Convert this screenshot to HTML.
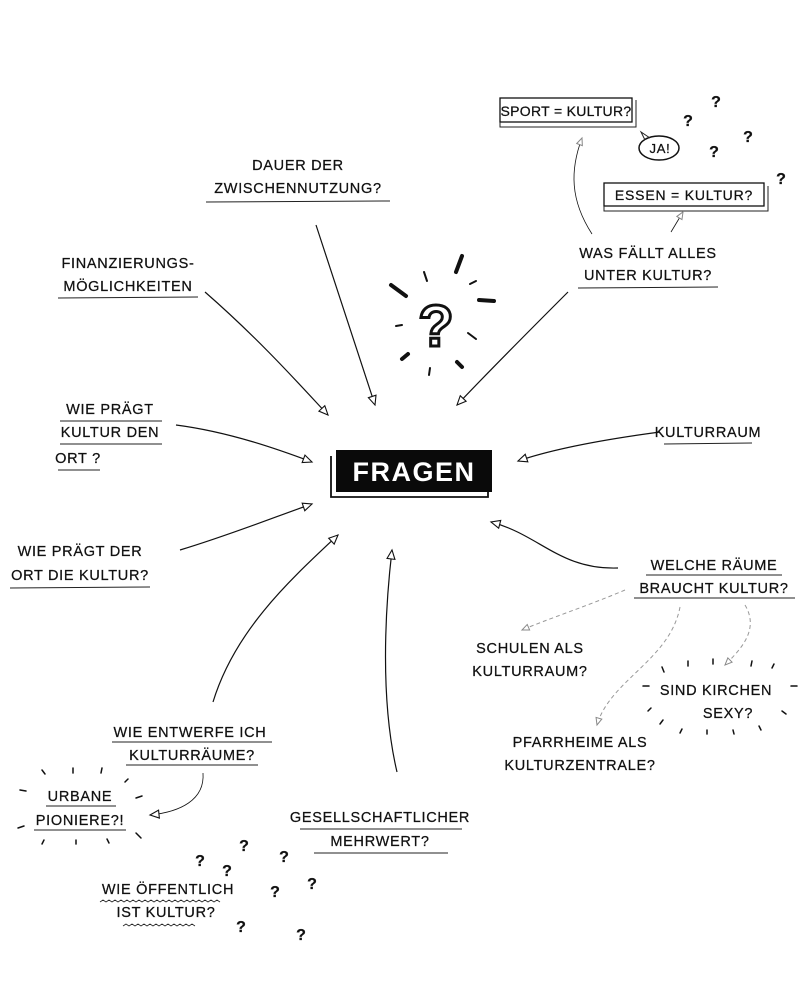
<!DOCTYPE html>
<html><head><meta charset="utf-8"><style>
html,body{margin:0;padding:0;background:#fff;}
svg{display:block}
text{font-family:"Liberation Sans",sans-serif;font-size:14.5px;letter-spacing:0.7px;fill:#111;text-anchor:middle;stroke:#111;stroke-width:0.25}
.q{font-size:16px;font-weight:bold;letter-spacing:0}
.l{stroke:#111;stroke-width:1.2;fill:none}
.u{stroke:#222;stroke-width:1;fill:none}
.d{stroke:#999;stroke-width:1;fill:none;stroke-dasharray:4 3}
.r{stroke:#111;stroke-width:2;stroke-linecap:round}
.b{stroke:#111;stroke-width:4;stroke-linecap:round}
</style></head><body>
<svg width="806" height="983" viewBox="0 0 806 983" xmlns="http://www.w3.org/2000/svg">
<defs>
<marker id="a" markerWidth="12" markerHeight="10" refX="10" refY="5" orient="auto" markerUnits="userSpaceOnUse"><path d="M1,1 L10,5 L1,9 Z" fill="#fff" stroke="#111" stroke-width="1.1"/></marker>
<marker id="ag" markerWidth="10" markerHeight="8" refX="8" refY="4" orient="auto" markerUnits="userSpaceOnUse"><path d="M1,1 L8,4 L1,7 Z" fill="#fff" stroke="#888" stroke-width="1"/></marker>
</defs>

<!-- top right -->
<rect x="500" y="98" width="132" height="24" fill="#fff" stroke="#111" stroke-width="1.3"/>
<path d="M500,122 L500,127 L636,127 L636,100" class="u"/>
<text x="566" y="116" style="font-size:14px;letter-spacing:0.3px">SPORT = KULTUR?</text>
<ellipse cx="659" cy="148" rx="20" ry="12" fill="#fff" stroke="#111" stroke-width="1.5"/>
<path d="M645,140 L641,132 L650,138" class="u"/>
<text x="660" y="153" style="font-size:13px">JA!</text>
<rect x="604" y="183" width="160" height="23" fill="#fff" stroke="#111" stroke-width="1.3"/>
<path d="M604,206 L604,211 L768,211 L768,186" class="u"/>
<text x="684" y="200" style="font-size:14px;letter-spacing:0.8px">ESSEN = KULTUR?</text>
<text class="q" x="716" y="107">?</text><text class="q" x="688" y="126">?</text>
<text class="q" x="748" y="142">?</text><text class="q" x="714" y="157">?</text>
<text class="q" x="781" y="184">?</text>
<text x="648" y="258">WAS FÄLLT ALLES</text>
<text x="648" y="280">UNTER KULTUR?</text>
<path d="M578,288 L718,287" class="u"/>
<path d="M592,234 C570,200 570,170 582,138" class="l" style="stroke-width:0.8" marker-end="url(#ag)"/>
<path d="M671,232 L683,212" class="l" style="stroke-width:0.8" marker-end="url(#ag)"/>

<!-- top left -->
<text x="298" y="170">DAUER DER</text>
<text x="298" y="193">ZWISCHENNUTZUNG?</text>
<path d="M206,202 L390,201" class="u"/>
<text x="128" y="268">FINANZIERUNGS-</text>
<text x="128" y="291">MÖGLICHKEITEN</text>
<path d="M58,298 L198,297" class="u"/>

<!-- bulb -->
<g>
<line class="b" x1="462" y1="256" x2="456" y2="272"/>
<line class="b" x1="391" y1="285" x2="406" y2="296"/>
<line class="b" x1="479" y1="300" x2="494" y2="301"/>
<line class="r" x1="424" y1="272" x2="427" y2="281"/>
<line class="r" x1="470" y1="284" x2="476" y2="281"/>
<line class="r" x1="396" y1="326" x2="402" y2="325"/>
<line class="r" x1="468" y1="333" x2="476" y2="339"/>
<line class="b" x1="402" y1="359" x2="408" y2="354"/>
<line class="r" x1="430" y1="368" x2="429" y2="375"/>
<line class="b" x1="457" y1="362" x2="462" y2="367"/>
<text x="436" y="346" style="font-size:58px;font-weight:bold;fill:#fff;stroke:#111;stroke-width:3;letter-spacing:0">?</text>
</g>

<!-- FRAGEN -->
<path d="M331,456 L331,497 L488,497 L488,490" fill="none" stroke="#111" stroke-width="1.8"/>
<rect x="336" y="450" width="156" height="42" fill="#0a0a0a"/>
<text x="414" y="481" style="font-size:27px;font-weight:bold;fill:#fff;stroke:none;letter-spacing:1.5px">FRAGEN</text>

<!-- left -->
<text x="110" y="414">WIE PRÄGT</text>
<path d="M60,421 L162,421" class="u"/>
<text x="110" y="437">KULTUR DEN</text>
<path d="M60,444 L162,444" class="u"/>
<text x="78" y="463">ORT ?</text>
<path d="M58,470 L100,470" class="u"/>
<text x="80" y="556">WIE PRÄGT DER</text>
<text x="80" y="580">ORT DIE KULTUR?</text>
<path d="M10,588 L150,587" class="u"/>

<!-- right -->
<text x="708" y="437">KULTURRAUM</text>
<path d="M664,444 L752,443" class="u"/>
<text x="714" y="570">WELCHE RÄUME</text>
<path d="M646,575 L782,575" class="u"/>
<text x="714" y="593">BRAUCHT KULTUR?</text>
<path d="M634,598 L795,598" class="u"/>
<text x="530" y="653">SCHULEN ALS</text>
<text x="530" y="676">KULTURRAUM?</text>
<text x="716" y="695">SIND KIRCHEN</text>
<text x="728" y="718">SEXY?</text>
<g class="r" style="stroke-width:1.5">
<line x1="662" y1="667" x2="664" y2="672"/><line x1="688" y1="661" x2="688" y2="666"/>
<line x1="713" y1="659" x2="713" y2="664"/><line x1="752" y1="661" x2="751" y2="666"/>
<line x1="774" y1="664" x2="772" y2="668"/><line x1="643" y1="686" x2="649" y2="686"/>
<line x1="791" y1="686" x2="797" y2="686"/><line x1="651" y1="708" x2="648" y2="711"/>
<line x1="782" y1="711" x2="786" y2="714"/><line x1="663" y1="720" x2="660" y2="724"/>
<line x1="682" y1="729" x2="680" y2="733"/><line x1="707" y1="730" x2="707" y2="734"/>
<line x1="733" y1="730" x2="734" y2="734"/><line x1="759" y1="726" x2="761" y2="730"/>
</g>
<text x="580" y="747">PFARRHEIME ALS</text>
<text x="580" y="770">KULTURZENTRALE?</text>

<!-- bottom left -->
<text x="190" y="737">WIE ENTWERFE ICH</text>
<path d="M112,742 L272,742" class="u"/>
<text x="192" y="760">KULTURRÄUME?</text>
<path d="M126,765 L258,765" class="u"/>
<text x="80" y="801">URBANE</text>
<path d="M46,806 L116,806" class="u"/>
<text x="80" y="825">PIONIERE?!</text>
<path d="M34,830 L126,830" class="u"/>
<g class="r" style="stroke-width:1.5">
<line x1="42" y1="770" x2="45" y2="774"/><line x1="73" y1="768" x2="73" y2="773"/>
<line x1="102" y1="768" x2="101" y2="773"/><line x1="128" y1="779" x2="125" y2="782"/>
<line x1="20" y1="790" x2="26" y2="791"/><line x1="136" y1="798" x2="142" y2="796"/>
<line x1="18" y1="828" x2="24" y2="826"/><line x1="136" y1="833" x2="141" y2="838"/>
<line x1="44" y1="840" x2="42" y2="844"/><line x1="76" y1="840" x2="76" y2="844"/>
<line x1="107" y1="839" x2="109" y2="843"/>
</g>
<text x="380" y="822">GESELLSCHAFTLICHER</text>
<path d="M300,829 L462,829" class="u"/>
<text x="380" y="846">MEHRWERT?</text>
<path d="M314,853 L448,853" class="u"/>
<text x="168" y="894">WIE ÖFFENTLICH</text>
<text x="166" y="917">IST KULTUR?</text>
<path d="M100,902 l3,-2 l3,2 l3,-2 l3,2 l3,-2 l3,2 l3,-2 l3,2 l3,-2 l3,2 l3,-2 l3,2 l3,-2 l3,2 l3,-2 l3,2 l3,-2 l3,2 l3,-2 l3,2 l3,-2 l3,2 l3,-2 l3,2 l3,-2 l3,2 l3,-2 l3,2 l3,-2 l3,2 l3,-2 l3,2 l3,-2 l3,2 l3,-2 l3,2 l3,-2 l3,2 l3,-2 l3,2" class="u" style="stroke-width:0.8"/>
<path d="M123,926 l3,-2 l3,2 l3,-2 l3,2 l3,-2 l3,2 l3,-2 l3,2 l3,-2 l3,2 l3,-2 l3,2 l3,-2 l3,2 l3,-2 l3,2 l3,-2 l3,2 l3,-2 l3,2 l3,-2 l3,2 l3,-2 l3,2" class="u" style="stroke-width:0.8"/>
<text class="q" x="200" y="866">?</text><text class="q" x="227" y="876">?</text>
<text class="q" x="244" y="851">?</text><text class="q" x="284" y="862">?</text>
<text class="q" x="275" y="897">?</text><text class="q" x="312" y="889">?</text>
<text class="q" x="241" y="932">?</text><text class="q" x="301" y="940">?</text>

<!-- arrows to FRAGEN -->
<path d="M316,225 L375,405" class="l" marker-end="url(#a)"/>
<path d="M205,292 C260,340 300,385 328,415" class="l" marker-end="url(#a)"/>
<path d="M568,292 C530,330 490,370 457,405" class="l" marker-end="url(#a)"/>
<path d="M176,425 C230,432 280,450 312,462" class="l" marker-end="url(#a)"/>
<path d="M180,550 C230,535 280,515 312,504" class="l" marker-end="url(#a)"/>
<path d="M660,432 C600,440 550,450 518,461" class="l" marker-end="url(#a)"/>
<path d="M618,568 C560,570 540,535 491,522" class="l" marker-end="url(#a)"/>
<path d="M213,702 C235,630 290,580 338,535" class="l" marker-end="url(#a)"/>
<path d="M397,772 C380,700 385,610 392,550" class="l" marker-end="url(#a)"/>
<path d="M203,773 C205,800 180,812 150,815" class="l" style="stroke-width:0.8" marker-end="url(#a)"/>

<!-- dashed -->
<path d="M625,590 C590,605 545,620 522,630" class="d" marker-end="url(#ag)"/>
<path d="M680,607 C670,660 610,680 597,725" class="d" marker-end="url(#ag)"/>
<path d="M745,605 C760,630 740,650 725,665" class="d" marker-end="url(#ag)"/>
</svg>
</body></html>
